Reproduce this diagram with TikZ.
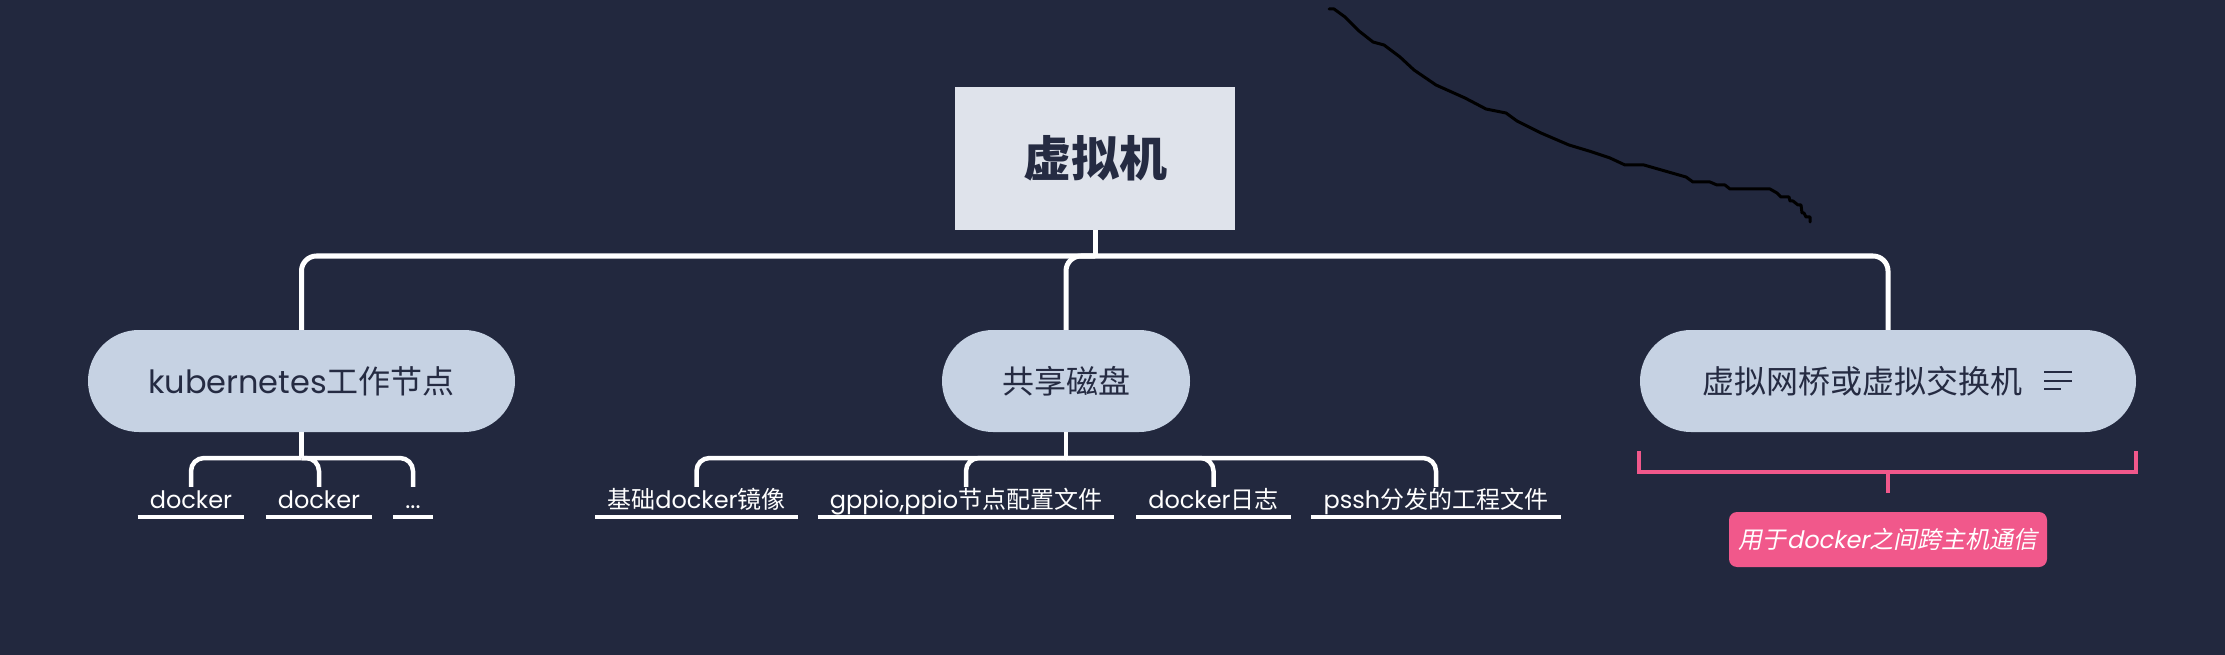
\documentclass[tikz,border=0pt]{standalone}
\usepackage{fontspec}
\setmainfont{Poppins}
\newfontfamily\cjk{Noto Sans CJK SC}
\newfontfamily\cjkit[FakeSlant=0.2]{Noto Sans CJK SC}
\newfontfamily\latit[FakeSlant=0.2]{Poppins}
\usetikzlibrary{calc}
\definecolor{bgcol}{RGB}{34,40,62}
\definecolor{topicfill}{HTML}{C6D2E3}
\definecolor{rootfill}{HTML}{DFE3EB}
\definecolor{darktext}{HTML}{252B42}
\definecolor{pinkcol}{HTML}{F1588B}
\begin{document}
\begin{tikzpicture}[x=1pt,y=-1pt,
  topic/.style={fill=topicfill, rounded corners=51pt, minimum height=102pt, inner sep=0pt, text=darktext, font=\fontsize{32}{38}\selectfont},
  rootbox/.style={fill=rootfill, minimum width=280pt, minimum height=143pt, inner sep=0pt, text=darktext, font=\fontsize{48}{56}\selectfont},
  conn/.style={draw=white, line width=5pt, rounded corners=15pt},
  subconn/.style={draw=white, line width=4.5pt, rounded corners=13pt},
  leaf/.style={text=white, font=\fontsize{24}{28}\selectfont, anchor=base, text height=18pt, text depth=6pt, inner xsep=12pt, inner ysep=3pt,
    append after command={\pgfextra{\let\uln\tikzlastnode} (\uln.south west) edge[draw=white,line width=3.5pt] (\uln.south east)}},
  bracket/.style={draw=pinkcol, line width=3.5pt},
  notebox/.style={fill=pinkcol, rounded corners=8pt, minimum width=318pt, minimum height=55pt, inner sep=0pt, text=white, font=\fontsize{24}{28}\selectfont},
  icon/.style={draw=darktext, line width=2.5pt}
]
\useasboundingbox (0,0) rectangle (2225,655);
\fill[bgcol] (0,0) rectangle (2225,655);

% freehand scribble
\draw[black, line width=3pt, line join=round, line cap=round]
 (1329,9) -- (1334,9) -- (1345,17) -- (1359,31) -- (1373,42) -- (1384,45) -- (1400,57) -- (1414,70) -- (1436,85) -- (1465,98) -- (1486,109) -- (1506,113) -- (1517,121) -- (1541,133) -- (1569,145) -- (1589,151) -- (1610,158) -- (1625,165) -- (1644,165) -- (1665,171) -- (1686,177) -- (1693,182) -- (1710,182) -- (1717,185) -- (1725,185) -- (1730,189) -- (1770,189) -- (1777,193) -- (1781,197) -- (1789,197) -- (1790,201) -- (1793,201) -- (1798,205) -- (1801,205) -- (1802,213) -- (1804,213) -- (1806,217) -- (1810,217) -- (1810,222);

% nodes
\node[rootbox] (root) at (1095,158.5) {{\cjk\bfseries 虚拟机}};
\node[topic, minimum width=427pt] (kube) at (301.5,381) {kubernetes{\cjk 工作节点}};
\node[topic, minimum width=248pt] (disk) at (1066,381) {{\cjk 共享磁盘}};
\node[topic, minimum width=496pt] (vb) at (1888,381) {{\cjk 虚拟网桥或虚拟交换机}\kern52pt};

\node[leaf] (d1) at (191,508) {docker};
\node[leaf] (d2) at (319,508) {docker};
\node[leaf] (d3) at (413,508) {...};
\node[leaf] (c1) at (696.5,508) {{\cjk 基础}docker{\cjk 镜像}};
\node[leaf] (c2) at (966,508) {gppio,ppio{\cjk 节点配置文件}};
\node[leaf] (c3) at (1213.5,508) {docker{\cjk 日志}};
\node[leaf] (c4) at (1436,508) {pssh{\cjk 分发的工程文件}};

\node[notebox] (note) at (1888,539.5) {{\cjkit 用于}{\latit docker}{\cjkit 之间跨主机通信}};

% junctions
\coordinate (j) at (1095,256);
\coordinate (kj) at (301.5,458);
\coordinate (dj) at (1066,458);

% main connectors
\draw[conn] (root.south) -- (j);
\draw[conn] (j) -| (kube.north);
\draw[conn] (j) -| (disk.north);
\draw[conn] (j) -| (vb.north);

% sub connectors
\draw[subconn] (kube.south) -- (kj);
\draw[subconn] (kj) -| (d1.north);
\draw[subconn] (kj) -| (d2.north);
\draw[subconn] (kj) -| (d3.north);
\draw[subconn] (disk.south) -- (dj);
\draw[subconn] (dj) -| (c1.north);
\draw[subconn] (dj) -| (c2.north);
\draw[subconn] (dj) -| (c3.north);
\draw[subconn] (dj) -| (c4.north);

% note icon
\draw[icon] ($(vb.east)+(-92,-9)$) -- ($(vb.east)+(-64,-9)$);
\draw[icon] ($(vb.east)+(-92,0)$) -- ($(vb.east)+(-64,0)$);
\draw[icon] ($(vb.east)+(-92,8)$) -- ($(vb.east)+(-75,8)$);

% summary bracket
\coordinate (bl) at ($(vb.south west)+(-1,19)$);
\coordinate (br) at ($(vb.south east)+(0,19)$);
\coordinate (bm) at ($(vb.south)+(0,40)$);
\coordinate (tickend) at ($(vb.south)+(0,61)$);
\draw[bracket] (bl) -- ($(bl)+(0,21)$) -- ($(br)+(0,21)$) -- (br);
\draw[bracket] (bm) -- (tickend);
\end{tikzpicture}
\end{document}
